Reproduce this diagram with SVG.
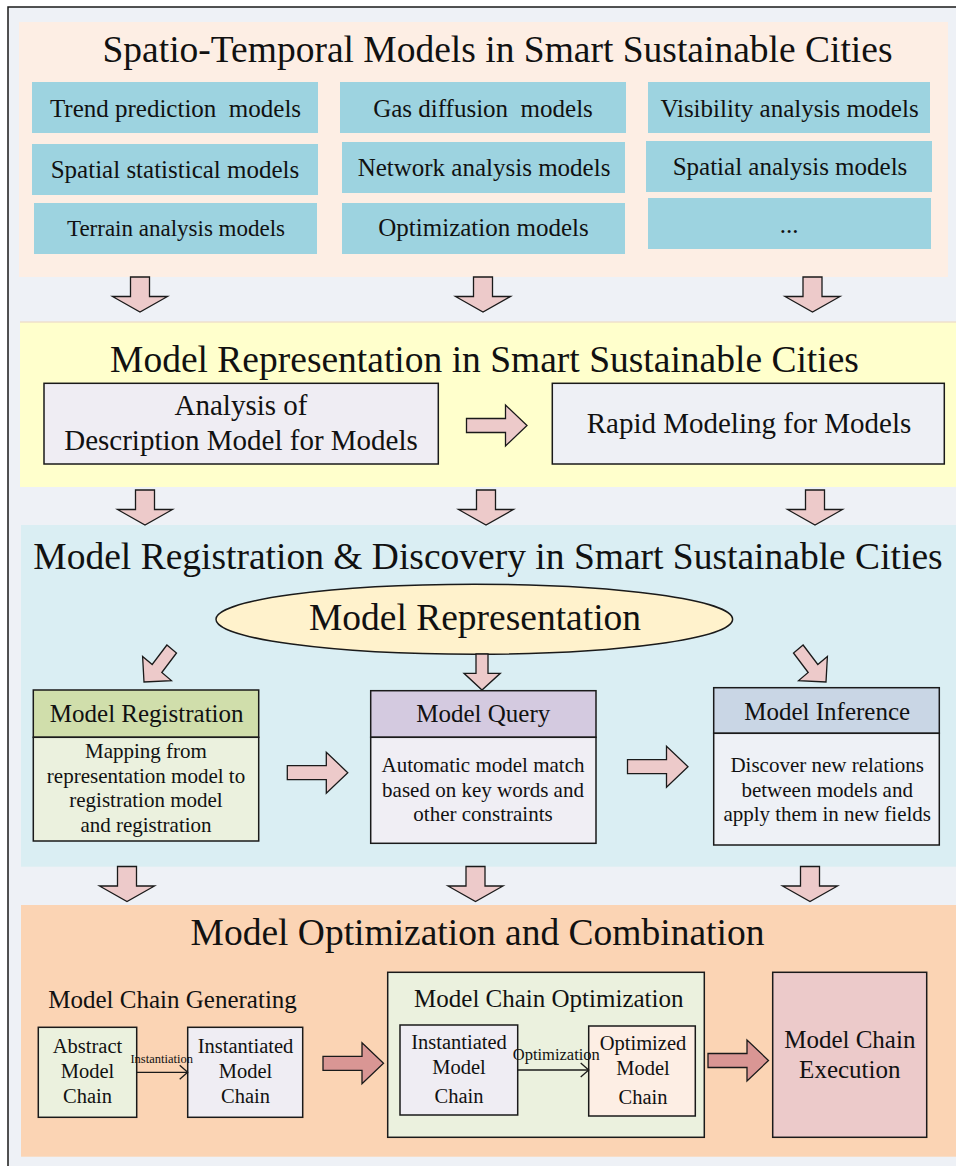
<svg xmlns="http://www.w3.org/2000/svg" xmlns:xlink="http://www.w3.org/1999/xlink" width="956" height="1166" viewBox="0 0 956 1166">
<style>
text{font-family:"Liberation Serif","Times New Roman",serif;fill:#111;text-anchor:middle}
.title{font-size:37.5px}
.blue{fill:#9DD3E0}
.box{stroke:#1a1a1a;stroke-width:1.5}
.t25{font-size:25px}
.t21{font-size:21px}
.t29{font-size:29px}
.arr{fill:#EDCACA;stroke:#1a1a1a;stroke-width:1.3}
.arrd{fill:#D99694;stroke:#1a1a1a;stroke-width:1.3}
.ln{stroke:#1a1a1a;stroke-width:1.3;fill:none}
</style>
<defs>
<path id="down" d="M-9.5,0 H9.5 V19.5 H27.5 L0,35 L-27.5,19.5 H-9.5 Z"/>
<path id="right" d="M0,-7 H39 V-20.5 L60.5,0 L39,20.5 V7 H0 Z"/>
<marker id="open" markerWidth="12" markerHeight="16" refX="10" refY="8" orient="auto" markerUnits="userSpaceOnUse">
<path d="M2,1 L10,8 L2,15" fill="none" stroke="#1a1a1a" stroke-width="1.3"/>
</marker>
</defs>

<rect x="8" y="7" width="960" height="1175" fill="#EEF1F6" stroke="#1a1a1a" stroke-width="1.5"/>

<g id="section1">
<rect x="19" y="22" width="929" height="255" fill="#FDEEE4"/>
<text class="title" x="497.5" y="62">Spatio-Temporal Models in Smart Sustainable Cities</text>
</g>
<g id="trend"><rect class="blue" x="32" y="82" width="286" height="51"/><text class="t25" x="175.5" y="117" xml:space="preserve">Trend prediction  models</text></g>
<g id="gas"><rect class="blue" x="340" y="82" width="286" height="51"/><text class="t25" x="483" y="117" xml:space="preserve">Gas diffusion  models</text></g>
<g id="visibility"><rect class="blue" x="648" y="82" width="282" height="51"/><text class="t25" x="789.5" y="117">Visibility analysis models</text></g>
<g id="spatialstat"><rect class="blue" x="32" y="144" width="286" height="51"/><text class="t25" x="175" y="178">Spatial statistical models</text></g>
<g id="network"><rect class="blue" x="342" y="142" width="283" height="51"/><text class="t25" x="484" y="175.7">Network analysis models</text></g>
<g id="spatialana"><rect class="blue" x="646" y="141" width="286" height="51"/><text class="t25" x="790" y="175">Spatial analysis models</text></g>
<g id="terrain"><rect class="blue" x="34" y="203" width="283" height="51"/><text x="176" y="235.7" style="font-size:23px">Terrain analysis models</text></g>
<g id="optim"><rect class="blue" x="342" y="203" width="283" height="51"/><text class="t25" x="483.5" y="235.7">Optimization models</text></g>
<g id="more"><rect class="blue" x="648" y="198" width="283" height="51"/><text class="t25" x="789" y="233">...</text></g>

<g id="section2">
<rect x="20" y="321.7" width="940" height="165.3" fill="#FFFFCC"/>
<line x1="20" y1="322" x2="956" y2="322" stroke="#E8D2C8" stroke-width="1"/>
<text class="title" x="484.5" y="371.7">Model Representation in Smart Sustainable Cities</text>
</g>
<g id="analysis"><rect class="box" x="44" y="383.3" width="394.3" height="80.7" fill="#EFEDF3"/><text class="t29" x="241" y="415">Analysis of</text><text class="t29" x="241" y="450">Description Model for Models</text></g>
<g id="rapid"><rect class="box" x="552.3" y="383.3" width="392" height="80.7" fill="#EEF0F5"/><text class="t29" x="749" y="432.7">Rapid Modeling for Models</text></g>

<g id="section3">
<rect x="21" y="525" width="940" height="341.7" fill="#DAEEF3"/>
<text class="title" x="488" y="569.3">Model Registration &amp; Discovery in Smart Sustainable Cities</text>
</g>
<g id="modelrep"><ellipse class="box" cx="474.3" cy="619.3" rx="258.3" ry="35" fill="#FFF2CC"/><text class="title" x="475" y="630">Model Representation</text></g>
<g id="registration">
<rect class="box" x="33.3" y="690" width="225.4" height="47.3" fill="#D0DEAB"/>
<rect class="box" x="33.3" y="737.3" width="225.4" height="103.7" fill="#EBF1DE"/>
<text class="t25" x="146.7" y="721.7">Model Registration</text>
<text class="t21" x="146" y="758.3">Mapping from</text>
<text class="t21" x="146" y="783.3">representation model to</text>
<text class="t21" x="146" y="807.3">registration model</text>
<text class="t21" x="146" y="832.3">and registration</text>
</g>
<g id="query">
<rect class="box" x="370.7" y="690.7" width="225.3" height="46.6" fill="#D4CAE0"/>
<rect class="box" x="370.7" y="737.3" width="225.3" height="106" fill="#F0EEF4"/>
<text class="t25" x="483.3" y="721.7">Model Query</text>
<text class="t21" x="483" y="771.7">Automatic model match</text>
<text class="t21" x="483" y="796.7">based on key words and</text>
<text class="t21" x="483" y="821">other constraints</text>
</g>
<g id="inference">
<rect class="box" x="713.7" y="687.7" width="225.6" height="45.6" fill="#C9D6E5"/>
<rect class="box" x="713.7" y="733.3" width="225.6" height="111.7" fill="#EEF1F6"/>
<text class="t25" x="827.2" y="720">Model Inference</text>
<text class="t21" x="827.2" y="771.7">Discover new relations</text>
<text class="t21" x="827.2" y="796.7">between models and</text>
<text class="t21" x="827.2" y="821">apply them in new fields</text>
</g>

<g id="section4">
<rect x="21" y="905" width="940" height="251.7" fill="#FBD4B4"/>
<text class="title" x="477.5" y="945">Model Optimization and Combination</text>
<text class="t25" x="48.3" y="1008.3" style="text-anchor:start">Model Chain Generating</text>
</g>
<g id="abstract"><rect class="box" x="38.3" y="1027.3" width="98.4" height="90" fill="#EBF1DE"/>
<text x="87.5" y="1053.3" style="font-size:20.5px">Abstract</text><text x="87.5" y="1078.3" style="font-size:20.5px">Model</text><text x="87.5" y="1103.3" style="font-size:20.5px">Chain</text></g>
<g id="instantiated1"><rect class="box" x="187.7" y="1027.3" width="115" height="90" fill="#EFEDF3"/>
<text x="245.5" y="1053.3" style="font-size:20.5px">Instantiated</text><text x="245.5" y="1078.3" style="font-size:20.5px">Model</text><text x="245.5" y="1103.3" style="font-size:20.5px">Chain</text></g>
<g id="optcontainer"><rect class="box" x="387.7" y="972.3" width="316.6" height="165" fill="#EBF1DE"/>
<text class="t25" x="548.8" y="1006.7">Model Chain Optimization</text></g>
<g id="instantiated2"><rect class="box" x="400" y="1025" width="117.7" height="90" fill="#EFEDF3"/>
<text x="459" y="1049.3" style="font-size:20.5px">Instantiated</text><text x="459" y="1074.3" style="font-size:20.5px">Model</text><text x="459" y="1103.3" style="font-size:20.5px">Chain</text></g>
<g id="optimized"><rect class="box" x="588.7" y="1026" width="106.6" height="90" fill="#FDEEE4"/>
<text x="643" y="1050" style="font-size:20.5px">Optimized</text><text x="643" y="1075" style="font-size:20.5px">Model</text><text x="643" y="1104" style="font-size:20.5px">Chain</text></g>
<g id="execution"><rect class="box" x="772.7" y="972.3" width="154" height="165" fill="#ECCACA"/>
<text class="t25" x="849.8" y="1047.7">Model Chain</text><text class="t25" x="849.8" y="1077.7">Execution</text></g>

<g id="connectors">
<use href="#down" class="arr" x="140" y="277"/>
<use href="#down" class="arr" x="483" y="277"/>
<use href="#down" class="arr" x="812.5" y="277"/>
<use href="#down" class="arr" x="145" y="490"/>
<use href="#down" class="arr" x="486" y="490"/>
<use href="#down" class="arr" x="815" y="490"/>
<use href="#down" class="arr" x="127" y="866.5"/>
<use href="#down" class="arr" x="475.5" y="866.5"/>
<use href="#down" class="arr" x="810" y="866.5"/>
<use href="#right" class="arr" x="466.5" y="425.5"/>
<use href="#right" class="arr" x="287.3" y="772.7"/>
<use href="#right" class="arr" x="627.5" y="766.7"/>
<use href="#right" class="arrd" x="323" y="1063.3"/>
<use href="#right" class="arrd" x="708" y="1060.5"/>
<path class="arr" d="M166.9,645 L152.2,664.5 L142.6,656.4 L144,682 L171.4,680.6 L161.8,672.5 L176.5,653 Z"/>
<path class="arr" d="M476,654 H488 V673.3 H500.3 L482,690 L464,673.3 H476 Z"/>
<path class="arr" d="M803.1,645 L817.8,664.5 L827.4,656.4 L826,682 L798.6,680.6 L808.2,672.5 L793.5,653 Z"/>
<line class="ln" x1="136.7" y1="1072.3" x2="187.7" y2="1072.3" marker-end="url(#open)"/>
<text x="161.7" y="1062.7" style="font-size:12.5px">Instantiation</text>
<line class="ln" x1="517.7" y1="1070" x2="588.7" y2="1070" marker-end="url(#open)"/>
<text x="556.3" y="1060" style="font-size:16.5px">Optimization</text>
</g>
</svg>
